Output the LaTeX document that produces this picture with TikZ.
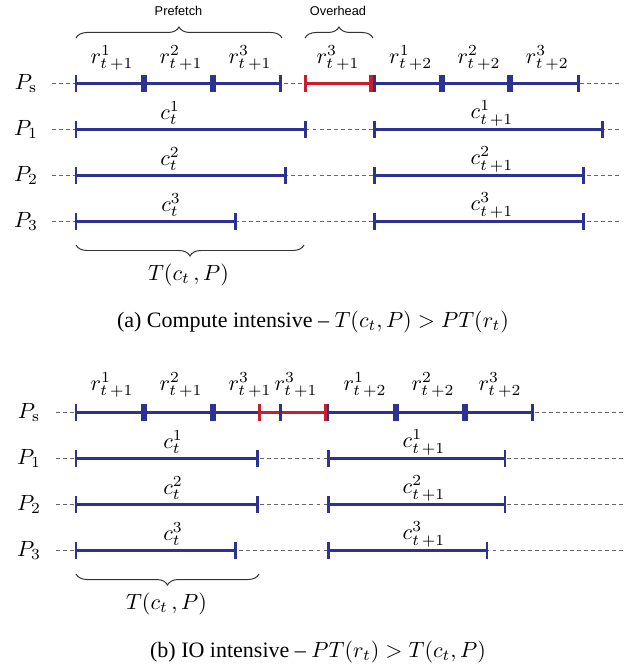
\documentclass[tikz,border=0pt]{standalone}
\usepackage[no-math]{fontspec}
\setmainfont{Liberation Serif}
\newfontfamily\sansf{Liberation Sans}
\usetikzlibrary{decorations.pathreplacing}
\definecolor{pblue}{RGB}{45,50,145}
\definecolor{pred}{RGB}{200,30,45}
\newcommand\Tk[3]{\draw[#1] (#2,#3-8.3) -- (#2,#3+8.3);}
\begin{document}
\begin{tikzpicture}[x=0.4545pt,y=-0.4545pt,
  dotline/.style={draw=black!60,line width=0.45pt,dash pattern=on 1.8pt off 1.4pt},
  bbar/.style={draw=pblue,line width=1.4pt},
  rbar/.style={draw=pred,line width=1.4pt},
  btn/.style={draw=pblue,line width=1.15pt},
  btk/.style={draw=pblue,line width=2.6pt},
  rtn/.style={draw=pred,line width=1.3pt},
  rtk/.style={draw=pred,line width=1.8pt},
  lab/.style={inner sep=0pt,font=\fontsize{10}{12}\selectfont},
  slab/.style={inner sep=0pt,font=\sansf\fontsize{5.8}{7}\selectfont},
  captxt/.style={inner sep=0pt,font=\fontsize{10}{12}\selectfont},
  brc/.style={draw=black!80,line width=0.45pt,decorate,decoration={brace,amplitude=5pt}}]
\useasboundingbox (0,0) rectangle (634,669);
% ===================== (a) =====================
\foreach \yy in {83.3,129.3,175.3,221.3} {\draw[dotline] (52,\yy) -- (620,\yy);}
% Ps
\draw[bbar] (76,83.3) -- (280.3,83.3);
\draw[rbar] (305.3,83.3) -- (371.5,83.3);
\draw[bbar] (374.5,83.3) -- (578.3,83.3);
\foreach \xx in {76,280.3,374.5,578.3} {\Tk{btn}{\xx}{83.3}}
\foreach \xx in {144,212.7,441.7,510.3} {\Tk{btk}{\xx}{83.3}}
\Tk{rtn}{305.3}{83.3}
\Tk{rtk}{371.3}{83.3}
% P1..P3
\draw[bbar] (76,129.3) -- (305.3,129.3);
\draw[bbar] (374.3,129.3) -- (602.3,129.3);
\draw[bbar] (76,175.3) -- (285.7,175.3);
\draw[bbar] (374.3,175.3) -- (583.3,175.3);
\draw[bbar] (76,221.3) -- (235.7,221.3);
\draw[bbar] (374.3,221.3) -- (583.3,221.3);
\foreach \xx in {76,305.3,374.3,602.3} {\Tk{btn}{\xx}{129.3}}
\foreach \xx in {76,285.7,374.3,583.3} {\Tk{btn}{\xx}{175.3}}
\foreach \xx in {76,235.7,374.3,583.3} {\Tk{btn}{\xx}{221.3}}
% labels
\node[lab] (aPs) at (26,83.3) {$P_{\mathrm{s}}$};
\node[lab] (aP1) at (26,129.3) {$P_1$};
\node[lab] (aP2) at (26,175.3) {$P_2$};
\node[lab] (aP3) at (26,221.3) {$P_3$};
\node[lab] (ar1) at (112,58) {$r^1_{t\,+1}$};
\node[lab] (ar2) at (181,58) {$r^2_{t\,+1}$};
\node[lab] (ar3) at (250,58) {$r^3_{t\,+1}$};
\node[lab] (ar3b) at (338,58) {$r^3_{t\,+1}$};
\node[lab] (ar4) at (410.7,58) {$r^1_{t\,+2}$};
\node[lab] (ar5) at (479,58) {$r^2_{t\,+2}$};
\node[lab] (ar6) at (547.3,58) {$r^3_{t\,+2}$};
\node[lab] (ac1) at (170,113.3) {$c^1_t$};
\node[lab] (ac2) at (170,159.3) {$c^2_t$};
\node[lab] (ac3) at (171,205.3) {$c^3_t$};
\node[lab] (ad1) at (492,113.3) {$c^1_{t\,+1}$};
\node[lab] (ad2) at (492,159.3) {$c^2_{t\,+1}$};
\node[lab] (ad3) at (492,205.3) {$c^3_{t\,+1}$};
\draw[brc] (76,38) -- (282,38);
\draw[brc] (305,38) -- (373,38);
\node[slab] (apf) at (178.5,11) {Prefetch};
\node[slab] (aov) at (338,11) {Overhead};
\draw[brc] (304,245) -- (76,245);
\node[lab] (aT) at (188.5,275) {$T(c_t\,,P)$};
\node[captxt] (acap) at (313,322) {(a) Compute intensive -- $T(c_t,P) > PT(r_t)$};
% ===================== (b) =====================
\foreach \yy in {412.3,458.3,504.3,550.3} {\draw[dotline] (56,\yy) -- (624,\yy);}
\draw[bbar] (76,412.3) -- (280.3,412.3);
\draw[rbar] (259.3,412.3) -- (325.5,412.3);
\draw[bbar] (328,412.3) -- (532.3,412.3);
\Tk{rtn}{259.3}{412.3}
\Tk{rtn}{325.5}{412.3}
\foreach \xx in {76,280.3,328,532.3} {\Tk{btn}{\xx}{412.3}}
\foreach \xx in {144,212.7,395.7,464.7} {\Tk{btk}{\xx}{412.3}}
\draw[bbar] (76,458.3) -- (257.3,458.3);
\draw[bbar] (328.3,458.3) -- (505,458.3);
\draw[bbar] (76,504.3) -- (257.3,504.3);
\draw[bbar] (328.3,504.3) -- (505,504.3);
\draw[bbar] (76,550.3) -- (235.7,550.3);
\draw[bbar] (328.3,550.3) -- (487,550.3);
\foreach \xx in {76,257.3,328.3,505} {\Tk{btn}{\xx}{458.3}\Tk{btn}{\xx}{504.3}}
\foreach \xx in {76,235.7,328.3,487} {\Tk{btn}{\xx}{550.3}}
\node[lab] (bPs) at (29,412.3) {$P_{\mathrm{s}}$};
\node[lab] (bP1) at (29,458.3) {$P_1$};
\node[lab] (bP2) at (29,504.3) {$P_2$};
\node[lab] (bP3) at (29,550.3) {$P_3$};
\node[lab] (br1) at (112,385) {$r^1_{t\,+1}$};
\node[lab] (br2) at (181,385) {$r^2_{t\,+1}$};
\node[lab] (br3) at (250,385) {$r^3_{t\,+1}$};
\node[lab] (br3b) at (296,385) {$r^3_{t\,+1}$};
\node[lab] (br4) at (365,385) {$r^1_{t\,+2}$};
\node[lab] (br5) at (433,385) {$r^2_{t\,+2}$};
\node[lab] (br6) at (500,385) {$r^3_{t\,+2}$};
\node[lab] (bc1) at (173,442.3) {$c^1_t$};
\node[lab] (bc2) at (173,488.3) {$c^2_t$};
\node[lab] (bc3) at (173,534.3) {$c^3_t$};
\node[lab] (bd1) at (424,442.3) {$c^1_{t\,+1}$};
\node[lab] (bd2) at (424,488.3) {$c^2_{t\,+1}$};
\node[lab] (bd3) at (424,534.3) {$c^3_{t\,+1}$};
\draw[brc] (259,574) -- (76,574);
\node[lab] (bT) at (166.5,604) {$T(c_t\,,P)$};
\node[captxt] (bcap) at (318,652) {(b) IO intensive -- $PT(r_t) > T(c_t,P)$};
\end{tikzpicture}
\end{document}
